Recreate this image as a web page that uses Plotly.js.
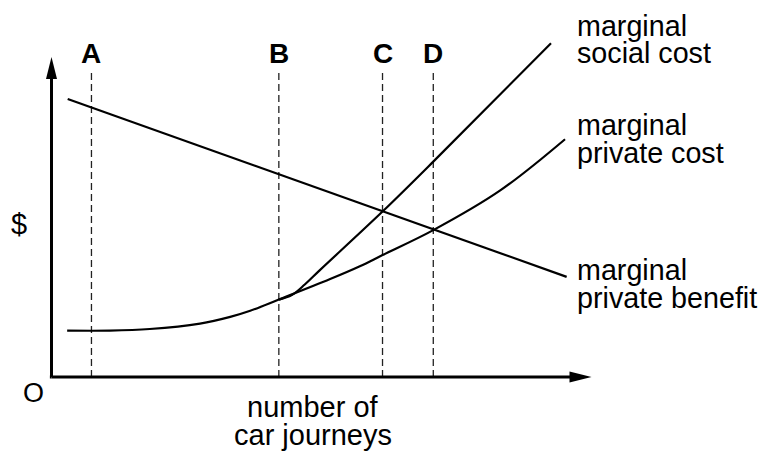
<!DOCTYPE html>
<html>
<head>
<meta charset="utf-8">
<script src="https://cdn.plot.ly/plotly-3.0.1.min.js"></script>
<style>html,body{margin:0;padding:0;background:#fff}#chart{width:762px;height:451px}</style>
</head>
<body>
<div id="chart"></div>
<script>
// ---- data (diagram units: origin at O, axis arrow tips at 100) ----
const refLabels = ["A", "B", "C", "D"];
const refX = [7.4, 42.1, 61.3, 70.7];
const refTop = 95.9;

const mpbX = [3.0, 95.4];
const mpbY = [86.9, 31.3];

const mpcX = [2.9, 10.8, 18.2, 27.5, 33.1, 36.8, 42.1, 51.6, 57.1, 61.3, 70.7, 83.1, 95.1];
const mpcY = [14.5, 14.5, 15.0, 16.7, 18.8, 20.7, 24.2, 30.6, 34.6, 38.1, 45.9, 58.3, 74.3];

const mscX = [42.1, 44.5, 46.9, 49.7, 61.3, 70.7, 92.5];
const mscY = [24.2, 25.6, 28.9, 33.4, 51.7, 67.3, 104.3];

const xAxisLabel = ["number of", "car journeys"];
const yAxisLabel = "$";
const originLabel = "O";
const curveLabels = [["marginal", "social cost"], ["marginal", "private cost"], ["marginal", "private benefit"]];

// ---- scale: 5.4 px per x unit, 3.2 px per y unit; origin at pixel (51.5, 377) ----
const W = 762, H = 451, OX = 51.5, OY = 377, SX = 5.4, SY = 3.2;
const px2x = p => (p - OX) / SX;
const py2y = p => (OY - p) / SY;

const FONT = "Arial, 'Liberation Sans', Helvetica, sans-serif";

const traces = [];
// dashed reference lines
refX.forEach(x => {
  traces.push({x: [x, x], y: [0, refTop], mode: "lines", hoverinfo: "skip",
    line: {color: "#222", width: 1.3, dash: "7px,4px"}});
});
traces.push({x: mpbX, y: mpbY, mode: "lines", hoverinfo: "skip", line: {color: "#000", width: 2.2}});
traces.push({x: mpcX, y: mpcY, mode: "lines", hoverinfo: "skip", line: {color: "#000", width: 2.2, shape: "spline", smoothing: 1}});
traces.push({x: mscX, y: mscY, mode: "lines", hoverinfo: "skip", line: {color: "#000", width: 2.2, shape: "spline", smoothing: 1}});

// axes with arrowheads
const arrowLen = 22, arrowHalf = 5.5;
const xTip = 100, yTip = 100;
const xBase = xTip - arrowLen / SX, yBase = yTip - arrowLen / SY;
const shapes = [
  {type: "line", x0: 0, y0: 0, x1: xBase + 0.5, y1: 0, line: {color: "#000", width: 3}},
  {type: "line", x0: 0, y0: 0, x1: 0, y1: yBase + 0.5, line: {color: "#000", width: 3}},
  {type: "path", path: `M ${xBase} ${arrowHalf / SY} L ${xTip} 0 L ${xBase} ${-arrowHalf / SY} Z`,
    fillcolor: "#000", line: {color: "#000", width: 0}},
  {type: "path", path: `M ${-arrowHalf / SX} ${yBase} L 0 ${yTip} L ${arrowHalf / SX} ${yBase} Z`,
    fillcolor: "#000", line: {color: "#000", width: 0}},
  {type: "line", x0: -0.3, y0: 0, x1: 0, y1: 0, line: {color: "#000", width: 3}}
];

const ann = [];
const txt = (text, px, py, size, anchor, bold) => ann.push({
  text: bold ? "<b>" + text + "</b>" : text, x: px2x(px), y: py2y(py), xref: "x", yref: "y",
  showarrow: false, xanchor: anchor, yanchor: "middle",
  font: {family: FONT, size: size, color: "#000"}
});
const refLabelY = 53.2;
refLabels.forEach((l, i) => txt(l, OX + refX[i] * SX, refLabelY, 28, "center", true));
const labelLeft = 575;
const labelCenters = [[26.0, 53.3], [125.0, 153.3], [270.0, 298.3]];
curveLabels.forEach((lines, i) => lines.forEach((t, j) => txt(t, labelLeft, labelCenters[i][j], 28.7, "left", false)));
txt(xAxisLabel[0], 312.5, 406.5, 29, "center", false);
txt(xAxisLabel[1], 312.5, 434.8, 29, "center", false);
txt(yAxisLabel, 19, 224, 29, "center", false);
txt(originLabel, 33, 392.5, 27, "center", false);

const layout = {
  width: W, height: H,
  margin: {l: 0, r: 0, t: 0, b: 0, pad: 0},
  paper_bgcolor: "#fff", plot_bgcolor: "#fff",
  showlegend: false,
  xaxis: {range: [px2x(0), px2x(W)], visible: false, fixedrange: true},
  yaxis: {range: [py2y(H), py2y(0)], visible: false, fixedrange: true},
  shapes: shapes,
  annotations: ann
};

Plotly.newPlot("chart", traces, layout, {displayModeBar: false, staticPlot: true});
</script>
</body>
</html>
